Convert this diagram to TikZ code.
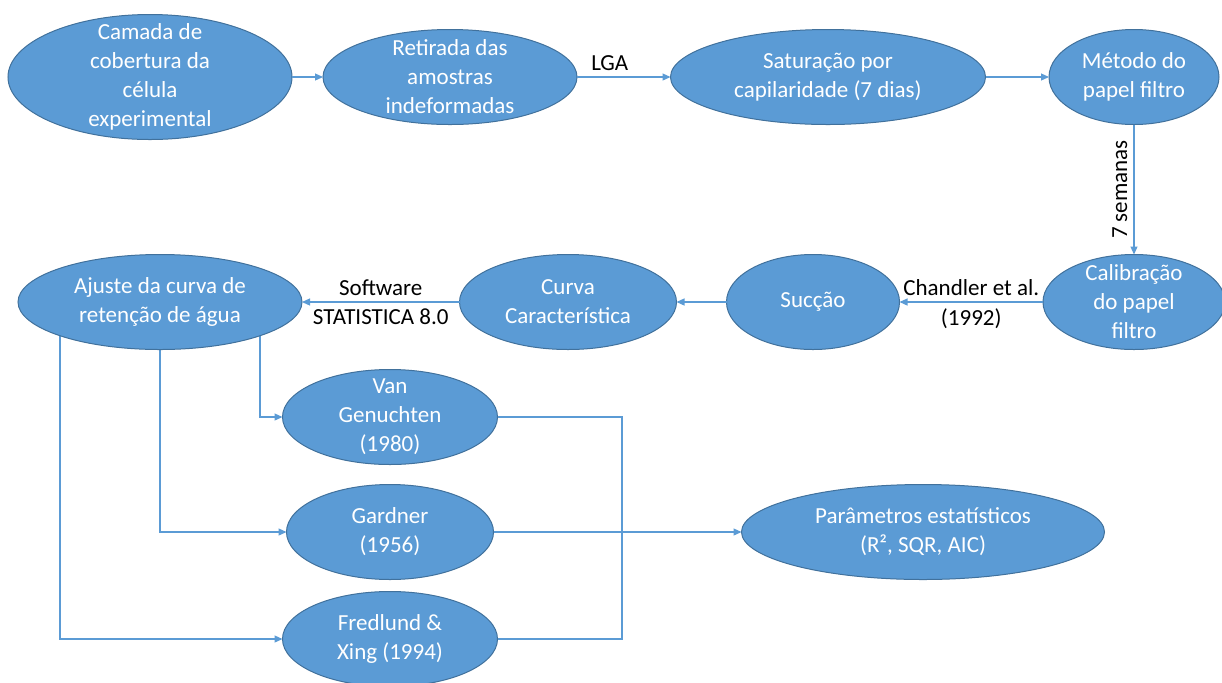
\documentclass[tikz,border=0pt]{standalone}
\usepackage{fontspec}
\setmainfont{Carlito}
\usetikzlibrary{arrows.meta, shapes.geometric, backgrounds}
\definecolor{officeblue}{HTML}{5B9BD5}
\definecolor{officeedge}{HTML}{41719C}

\begin{document}
\begin{tikzpicture}[
    x=0.5pt, y=-0.5pt,
    font=\fontsize{11.5}{14.5}\selectfont,
    stage/.style = {
      ellipse, draw=officeedge, line width=0.5pt,
      fill=officeblue, text=white,
      align=center, inner sep=-8pt, outer sep=0pt,
      minimum height=47.5pt
    },
    edge/.style = {-{Triangle[length=4pt,width=3.5pt]}, draw=officeblue, line width=0.6pt},
    link/.style = {draw=officeblue, line width=0.6pt},
    steptext/.style = {text=black, inner sep=3pt}
  ]

    \useasboundingbox (0,0) rectangle (1222,682);

    % top row
    \node[stage, minimum width=142pt, minimum height=62.5pt] (camada) at (150,77)
      {Camada de\\cobertura da\\célula\\experimental};
    \node[stage, minimum width=127pt] (retirada) at (450,77)
      {Retirada das\\amostras\\indeformadas};
    \node[stage, minimum width=157.5pt] (saturacao) at (828,77)
      {Saturação por\\capilaridade (7 dias)};
    \node[stage, minimum width=85pt] (metodo) at (1134,77)
      {Método do\\papel filtro};

    % second row
    \node[stage, minimum width=91pt] (calib) at (1134,302)
      {Calibração\\do papel\\filtro};
    \node[stage, minimum width=86.5pt] (succao) at (813,302) {Sucção};
    \node[stage, minimum width=108.5pt] (curva) at (568,302)
      {Curva\\Característica};
    \node[stage, minimum width=142pt] (ajuste) at (160,302)
      {Ajuste da curva de\\retenção de água};

    % models
    \node[stage, minimum width=107.5pt] (vangen) at (390,417)
      {Van\\Genuchten\\(1980)};
    \node[stage, minimum width=103.5pt] (gardner) at (390,532)
      {Gardner\\(1956)};
    \node[stage, minimum width=107.5pt] (fredlund) at (390,639)
      {Fredlund \&\\Xing (1994)};
    \node[stage, minimum width=181.5pt] (params) at (923,532)
      {Parâmetros estatísticos\\(R², SQR, AIC)};

    \coordinate (merge) at (622,532);

    \draw[edge] (camada) -- (retirada);
    \draw[edge] (retirada) --
      node[steptext, above, pos=0.35] {LGA}
      (saturacao);
    \draw[edge] (saturacao) -- (metodo);
    \draw[edge] (metodo) --
      node[steptext, midway, rotate=90, anchor=south] {7 semanas}
      (calib);
    \draw[edge] (calib) --
      node[steptext, above] {Chandler et al.}
      node[steptext, below] {(1992)}
      (succao);
    \draw[edge] (succao) -- (curva);
    \draw[edge] (curva) --
      node[steptext, above] {Software}
      node[steptext, below] {STATISTICA 8.0}
      (ajuste);

    \begin{scope}[on background layer]
      \draw[edge] ([xshift=50pt]ajuste.center) |- (vangen.west);
      \draw[edge] (ajuste.center) |- (gardner.west);
      \draw[edge] ([xshift=-50pt]ajuste.center) |- (fredlund.west);
    \end{scope}

    \draw[link] (vangen.east) -| (merge) |- (fredlund.east);
    \draw[edge] (gardner) -- (params);

  \end{tikzpicture}
\end{document}
